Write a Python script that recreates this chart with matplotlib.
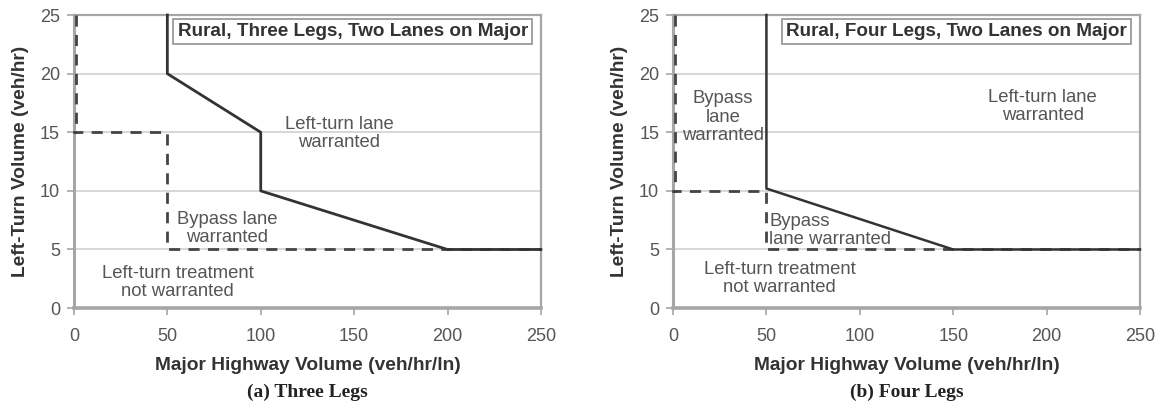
import matplotlib.pyplot as plt

plt.rcParams['font.family'] = ['Liberation Sans', 'DejaVu Sans']

# (a) three legs
three_solid_x = [50, 50, 100, 100, 200, 250]
three_solid_y = [25, 20, 15, 10, 5, 5]
three_dash_x = [1, 1, 0, 50, 50, 250]
three_dash_y = [25, 15, 15, 15, 5, 5]

# (b) four legs
four_solid_x = [50, 50, 150, 250]
four_solid_y = [25, 10.2, 5, 5]
four_dash_x = [1, 1, 0, 50, 50, 250]
four_dash_y = [25, 10, 10, 10, 5, 5]

x_ticks = [0, 50, 100, 150, 200, 250]
y_ticks = [0, 5, 10, 15, 20, 25]

fig = plt.figure(figsize=(11.61, 4.07), dpi=100)
ax1 = fig.add_axes([0.0637, 0.243, 0.4022, 0.72])
ax2 = fig.add_axes([0.5797, 0.243, 0.4022, 0.72])

spine_c = '#a6a6a6'
txt_c = '#555555'
line_c = '#333333'


def setup(ax, title, caption):
    ax.set_xlim(0, 250)
    ax.set_ylim(0, 25)
    ax.set_xticks(x_ticks)
    ax.set_yticks(y_ticks)
    ax.grid(axis='y', color='#d4d4d4', linewidth=1.3)
    ax.set_axisbelow(True)
    for s in ax.spines.values():
        s.set_color(spine_c)
        s.set_linewidth(1.6)
    ax.spines['bottom'].set_linewidth(2.6)
    ax.spines['left'].set_linewidth(2.2)
    ax.tick_params(colors=spine_c, length=5, width=1.2, labelsize=13,
                   labelcolor=txt_c)
    ax.tick_params(axis='x', pad=9)
    ax.tick_params(axis='y', pad=5)
    ax.set_xlabel('Major Highway Volume (veh/hr/ln)', fontsize=13.8,
                  fontweight='bold', color='#333333', labelpad=9)
    ax.set_ylabel('Left-Turn Volume (veh/hr)', fontsize=13.8,
                  fontweight='bold', color='#333333', labelpad=8)
    ax.text(0.972, 0.945, title, transform=ax.transAxes, ha='right', va='center',
            fontsize=13.6, fontweight='bold', color='#333333',
            bbox=dict(boxstyle='square,pad=0.22', fc='white', ec='#9a9a9a', lw=1.3))
    ax.text(0.5, -0.287, caption, transform=ax.transAxes, ha='center', va='center',
            fontsize=14, fontweight='bold', color='#222222',
            family=['Liberation Serif', 'DejaVu Serif'])


setup(ax1, 'Rural, Three Legs, Two Lanes on Major', '(a) Three Legs')
setup(ax2, 'Rural, Four Legs, Two Lanes on Major', '(b) Four Legs')

ax1.plot(three_dash_x, three_dash_y, color='#444444', lw=2, ls=(0, (4, 3)),
         clip_on=False, zorder=3)
ax1.plot(three_solid_x, three_solid_y, color=line_c, lw=2, clip_on=False, zorder=4)
ax2.plot(four_dash_x, four_dash_y, color='#444444', lw=2, ls=(0, (4, 3)),
         clip_on=False, zorder=3)
ax2.plot(four_solid_x, four_solid_y, color=line_c, lw=1.8, clip_on=False, zorder=4)

lbl = dict(fontsize=13.3, color='#555555', ha='center', va='center', linespacing=1.1)
ax1.text(142, 14.9, 'Left-turn lane\nwarranted', **lbl)
ax1.text(82, 6.8, 'Bypass lane\nwarranted', **lbl)
ax1.text(55.5, 2.2, 'Left-turn treatment\nnot warranted', **lbl)

ax2.text(198, 17.2, 'Left-turn lane\nwarranted', **lbl)
ax2.text(26.8, 16.3, 'Bypass\nlane\nwarranted', **lbl)
ax2.text(51.5, 6.65, 'Bypass\nlane warranted', fontsize=13.3, color='#555555',
         ha='left', va='center', linespacing=1.1)
ax2.text(57, 2.5, 'Left-turn treatment\nnot warranted', **lbl)

fig.savefig('out.png', dpi=100)
